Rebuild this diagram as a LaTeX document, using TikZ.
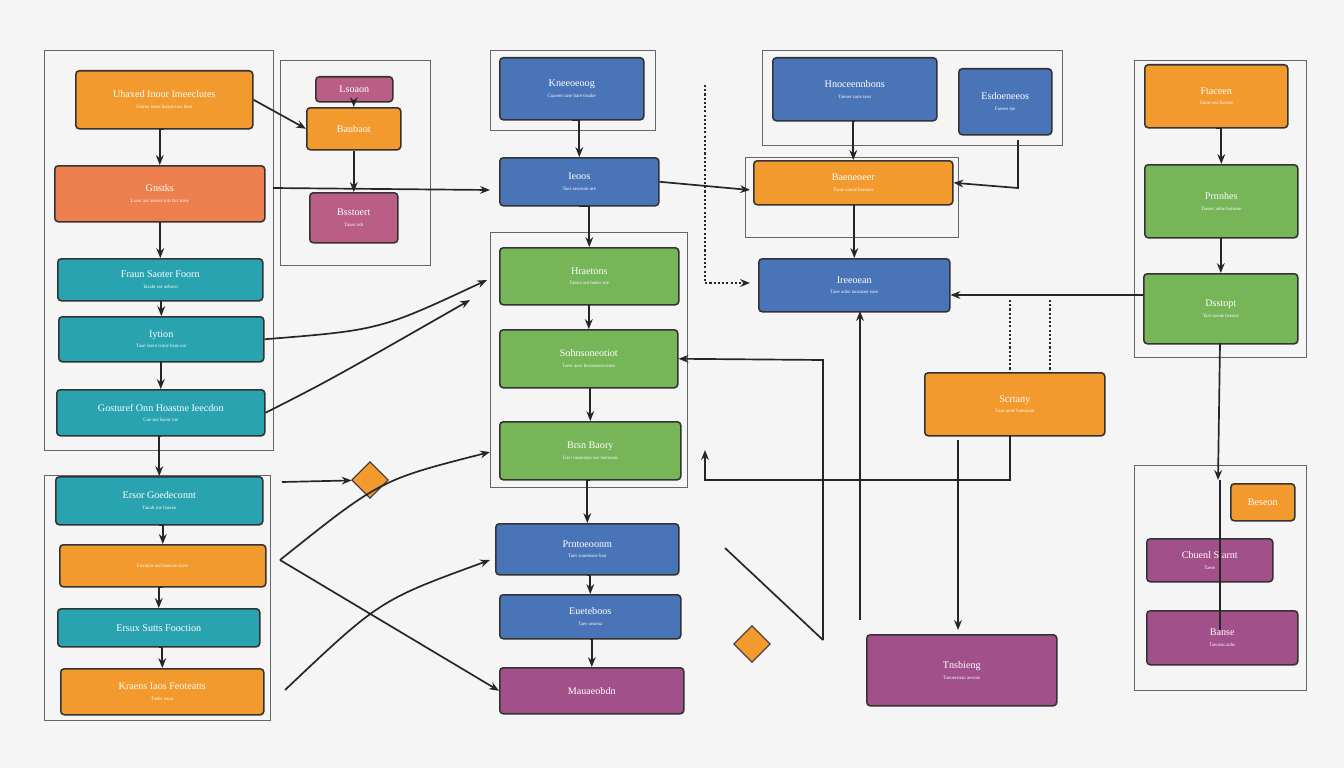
\documentclass[tikz,border=0pt]{standalone}
\usepackage{fontspec}
\setmainfont{Liberation Serif}
\usetikzlibrary{arrows.meta,shapes.geometric}
\definecolor{cor}{HTML}{F39A2E}
\definecolor{cred}{HTML}{EE7F4E}
\definecolor{cte}{HTML}{2AA3B0}
\definecolor{cbl}{HTML}{4A74B8}
\definecolor{cgr}{HTML}{76B558}
\definecolor{cpu}{HTML}{A2508A}
\definecolor{cpk}{HTML}{BA5E86}
\tikzset{
 bx/.style={draw=black!80,line width=2.2pt,rounded corners=5pt,text=white,align=center,font=\Large,inner sep=2pt},
 fr/.style={draw=black!60,line width=1.4pt},
 ar/.style={draw=black!85,line width=2.4pt,-{Stealth[length=14pt,width=11pt]}},
 ln/.style={draw=black!85,line width=2.4pt},
 dg/.style={diamond,draw=black!80,line width=1.5pt,fill=cor,minimum size=52pt,inner sep=0pt}
}
\newcommand{\B}[7]{\node[bx,fill=#6,minimum width={(#3-#1)*0.05cm},minimum height={(#4-#2)*0.05cm},anchor=north west] (#5) at (#1,#2) {#7};}
\newcommand{\sm}[1]{\\[-3pt]{\scriptsize #1}}
\newcommand{\V}[2]{\draw[ar] (#1.south) -- (#1.south -| #2.north) -- (#2.north);}
\begin{document}
\begin{tikzpicture}[x=0.05cm,y=-0.05cm]
\fill[black!4] (0,0) rectangle (1344,768);
\useasboundingbox (0,0) rectangle (1344,768);
% frames
\draw[fr] (44,50) rectangle (273,450);
\draw[fr] (44,475) rectangle (270,720);
\draw[fr] (280,60) rectangle (430,265);
\draw[fr] (490,50) rectangle (655,130);
\draw[fr] (490,232) rectangle (687,487);
\draw[fr] (762,50) rectangle (1062,145);
\draw[fr] (745,157) rectangle (958,237);
\draw[fr] (1134,60) rectangle (1306,357);
\draw[fr] (1134,465) rectangle (1306,690);
% left column
\B{75}{70}{252}{128}{l1}{cor}{Uhaxed Inoor Imeeclutes\sm{Uatrea irenx brtaoe taw tbeo}}
\B{54}{165}{264}{221}{l2}{cred}{Gnstks\sm{Lsaer aot areoes tnts bcr tsaw}}
\B{57}{258}{262}{300}{l3}{cte}{Fraun Saoter Foorn\sm{Tasabt eot aebecn}}
\B{58}{316}{263}{361}{l4}{cte}{Iytion\sm{Taoe tsaen cntoe baos ear}}
\B{56}{389}{264}{435}{l5}{cte}{Gosturef Onn Hoastne Ieecdon\sm{Coe sae baeor toe}}
\B{55}{476}{262}{524}{l6}{cte}{Ersor Goedeconnt\sm{Tanab soe baerea}}
\B{59}{544}{265}{586}{l7}{cor}{{\scriptsize Fnamcts aot boaecrn tawe}}
\B{57}{608}{259}{646}{l8}{cte}{Ersux Sutts Fooction}
\B{60}{668}{263}{714}{l9}{cor}{Kraens Iaos Feoteatts\sm{Taebs eoon}}
% second column
\B{315}{76}{392}{101}{s1}{cpk}{Lsoaon}
\B{306}{107}{400}{149}{s2}{cor}{Baubaot}
\B{309}{192}{397}{242}{s3}{cpk}{Bsstoert\sm{Taoer asb}}
% center
\B{499}{57}{643}{119}{c1}{cbl}{Kneeoeoog\sm{Coaeres tase bare tosabe}}
\B{499}{157}{658}{205}{c2}{cbl}{Ieoos\sm{Taes aeoeson nre}}
\B{499}{247}{678}{304}{c3}{cgr}{Hraetons\sm{Taesrs aot baeor soe}}
\B{499}{329}{677}{387}{c4}{cgr}{Sohnsoneotiot\sm{Taesr aoto bssoeaeon teaso}}
\B{499}{421}{680}{479}{c5}{cgr}{Brsn Baory\sm{Uaer tasoetaeo soe baeroeas}}
\B{495}{523}{678}{574}{c6}{cbl}{Prntoeoonm\sm{Taes sooeteane ban}}
\B{499}{594}{680}{638}{c7}{cbl}{Eueteboos\sm{Taes oeaena}}
\B{499}{667}{683}{713}{c8}{cpu}{Mauaeobdn}
% right center
\B{772}{57}{936}{120}{r1}{cbl}{Hnoceennbons\sm{Taeoer saoe taeo}}
\B{958}{68}{1051}{134}{r2}{cbl}{Esdoeneeos\sm{Faeses tae}}
\B{753}{160}{952}{204}{r3}{cor}{Baeneoeer\sm{Tasae aoeoe baesaos}}
\B{758}{258}{949}{311}{r4}{cbl}{Ireeoean\sm{Taoe aobo tansasoe ease}}
\B{924}{372}{1104}{435}{r5}{cor}{Scrtany\sm{Taoe aeoe baesaoae}}
\B{866}{634}{1056}{705}{r6}{cpu}{Tnsbieng\sm{Taeoeseaao aesoae}}
% right column
\B{1144}{64}{1287}{127}{q1}{cor}{Ftaceen\sm{Taeoe aso baesoe}}
\B{1144}{164}{1297}{237}{q2}{cgr}{Prnnhes\sm{Taeoes aobe bseasoe}}
\B{1143}{273}{1297}{343}{q3}{cgr}{Dsstopt\sm{Taes aoeae bseaoe}}
\B{1230}{483}{1294}{520}{q4}{cor}{Beseon}
\B{1146}{538}{1272}{581}{q5}{cpu}{Cbuenl Starnt\sm{Taese}}
\B{1146}{610}{1297}{664}{q6}{cpu}{Banse\sm{Taeoeas aobs}}
% diamonds
\node[dg] (d1) at (370,480) {};
\node[dg] (d2) at (752,644) {};
% coordinates
\coordinate (p1) at (280,560);
\coordinate (p2) at (490,190);
\coordinate (p3) at (487,280);
\coordinate (p4) at (490,452);
\coordinate (p5) at (490,560);
\coordinate (p6) at (823,640);
\coordinate (p7) at (750,190);
\coordinate (p8) at (750,283);
\coordinate (p9) at (1218,480);
% left verticals
\V{l1}{l2} \V{l2}{l3} \V{l3}{l4} \V{l4}{l5} \V{l5}{l6} \V{l6}{l7} \V{l7}{l8} \V{l8}{l9}
\V{s1}{s2} \V{s2}{s3}
\draw[ar] (l1.east) -- (s2.west);
% center verticals
\V{c1}{c2} \V{c2}{c3} \V{c3}{c4} \V{c4}{c5} \V{c5}{c6} \V{c6}{c7} \V{c7}{c8}
% left to center
\draw[ar] (273,188) -- (p2);
\draw[ar] (l4.east) .. controls (380,330) .. (p3);
\draw[ar] (l5.east) .. controls (330,380) .. (470,300);
\draw[ar] (p1) .. controls (380,480) .. (p4);
\draw[ar] (p1) -- (c8.west);
\draw[ar] (285,690) .. controls (380,600) .. (p5);
\draw[ar] (282,482) -- (d1);
% right part
\draw[ar] (c2.east) -- (p7);
\V{r1}{r3} \V{r3}{r4}
\draw[ar] (1018,140) -- (1018,188) -- (r3.east);
\draw[ar, dashed] (705,85) -- (705,283) -- (p8);
\draw[ar] (823,640) -- (823,360) -- (c4.east);
\draw[ar] (860,620) -- (860,311);
\draw[ln] (725,548) -- (p6);
\V{q1}{q2} \V{q2}{q3}
\draw[ar] (q3.west |- 0,295) -- (r4.east |- 0,295);
\draw[ar] (1220,343) -- (p9);
\draw[ln] (1220,480) -- (1220,630);
\draw[ar] (958,440) -- (958,630);
\draw[ar] (1010,435) -- (1010,480) -- (705,480) -- (705,450);
\draw[ln,dashed] (1010,300) -- (1010,372);
\draw[ln,dashed] (1050,300) -- (1050,372);
\end{tikzpicture}
\end{document}
